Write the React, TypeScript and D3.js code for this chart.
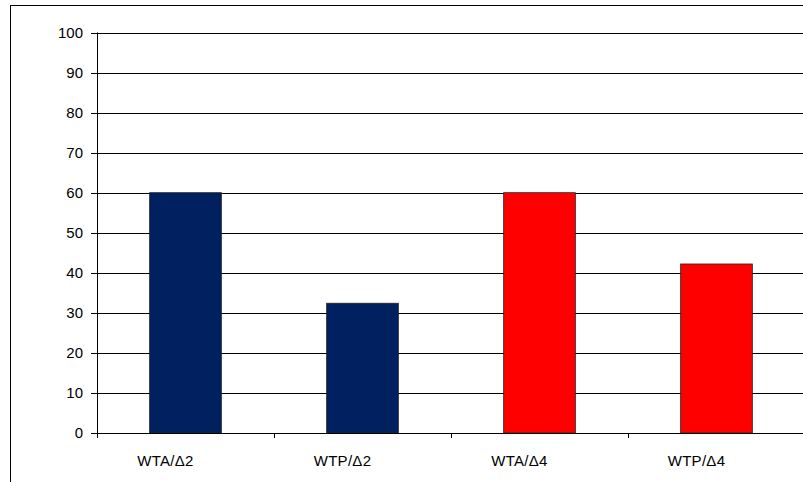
import React from "react";
import * as d3 from "d3";

const categories = ["WTA/Δ2", "WTP/Δ2", "WTA/Δ4", "WTP/Δ4"];
const values = [60, 32.4, 60, 42.2];
const barColors = ["#002060", "#002060", "#ff0000", "#ff0000"];
const yTicks = [0, 10, 20, 30, 40, 50, 60, 70, 80, 90, 100];

const W = 803;
const H = 482;
const left = 97;
const right = 805;
const top = 32.5;
const bottom = 433;

export default function App() {
  const x = d3.scaleBand<string>().domain(categories).range([left, right]).paddingInner(0).paddingOuter(0);
  const y = d3.scaleLinear().domain([0, 100]).range([bottom, top]);
  const bw = x.bandwidth() * 0.405;
  const font = "'Liberation Sans', Arial, sans-serif";

  return (
    <svg
      width={W}
      height={H}
      style={{ position: "absolute", left: 0, top: 0, background: "#fff" }}
    >
      <rect x={10.5} y={5.5} width={W + 10} height={H + 10} fill="#fff" stroke="#000" strokeWidth={1} />
      {yTicks.map((t) => (
        <g key={t}>
          {t > 0 && (
            <line x1={left} x2={W} y1={Math.round(y(t)) + 0.5} y2={Math.round(y(t)) + 0.5} stroke="#000" strokeWidth={1} />
          )}
          <line x1={left - 6} x2={left} y1={Math.round(y(t)) + 0.5} y2={Math.round(y(t)) + 0.5} stroke="#000" />
          <text
            x={83}
            y={y(t)}
            dy="0.36em"
            textAnchor="end"
            fontFamily={font}
            fontSize={15}
            fill="#000"
          >
            {t}
          </text>
        </g>
      ))}
      {categories.map((c, i) => {
        const cx = (x(c) as number) + x.bandwidth() / 2;
        return (
          <rect
            key={c}
            x={cx - bw / 2}
            y={y(values[i])}
            width={bw}
            height={y(0) - y(values[i])}
            fill={barColors[i]}
            stroke="#222"
            strokeWidth={0.8}
          />
        );
      })}
      <line x1={left + 0.5} x2={left + 0.5} y1={top} y2={bottom} stroke="#000" />
      <line x1={left} x2={W} y1={Math.round(bottom) + 0.5} y2={Math.round(bottom) + 0.5} stroke="#000" />
      {categories.map((c) => (
        <line
          key={"t" + c}
          x1={Math.round(x(c) as number) + 0.5}
          x2={Math.round(x(c) as number) + 0.5}
          y1={bottom}
          y2={bottom + 5}
          stroke="#000"
        />
      ))}
      {categories.map((c) => (
        <text
          key={"l" + c}
          x={(x(c) as number) + x.bandwidth() / 2 - 20}
          y={465.5}
          textAnchor="middle"
          fontFamily={font}
          fontSize={15}
          letterSpacing={0.3}
          fill="#000"
        >
          {c}
        </text>
      ))}
    </svg>
  );
}
